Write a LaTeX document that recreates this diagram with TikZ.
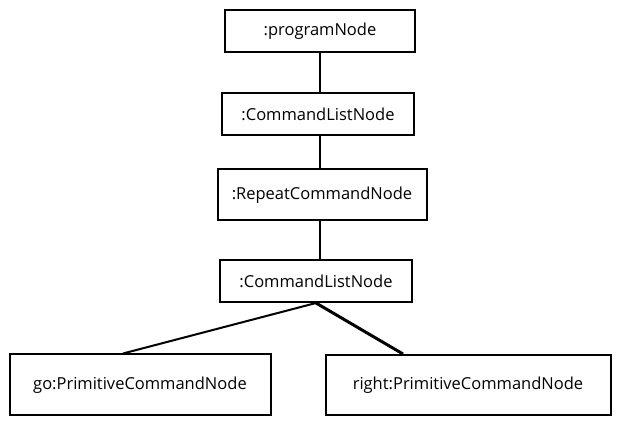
\documentclass[tikz,border=0pt]{standalone}
\usepackage{fontspec}
\setmainfont{Open Sans}
\usetikzlibrary{calc}

\begin{document}
\begin{tikzpicture}[x=1pt, y=-1pt,
    box/.style={rectangle, draw, line width=2pt, inner sep=0pt, font=\fontsize{16.5}{19}\selectfont},
    edge/.style={line width=2pt}]
      \useasboundingbox (0,0) rectangle (624,427);

      \node[box, minimum width=190pt, minimum height=42pt] (prog) at (320,31) {:programNode};
      \node[box, minimum width=192pt, minimum height=42pt] (cl1) at (318,114) {:CommandListNode};
      \node[box, minimum width=209pt, minimum height=51pt] (rep) at (322,195) {:RepeatCommandNode};
      \node[box, minimum width=192pt, minimum height=42pt] (cl2) at (316,281) {:CommandListNode};
      \node[box, minimum width=261pt, minimum height=61pt] (go) at (140,385) {go:PrimitiveCommandNode};
      \node[box, minimum width=285pt, minimum height=60pt] (right) at (468,385) {right:PrimitiveCommandNode};

      \draw[edge] (prog.south) -- (prog.south |- cl1.north);
      \draw[edge] (cl1.south -| prog.south) -- (prog.south |- rep.north);
      \draw[edge] (rep.south -| prog.south) -- (prog.south |- cl2.north);
      \draw[edge] (cl2.south) -- ([xshift=-17pt]go.north);
      \draw[edge, line width=3pt] (cl2.south) -- ([xshift=-65pt]right.north);
    \end{tikzpicture}
\end{document}
